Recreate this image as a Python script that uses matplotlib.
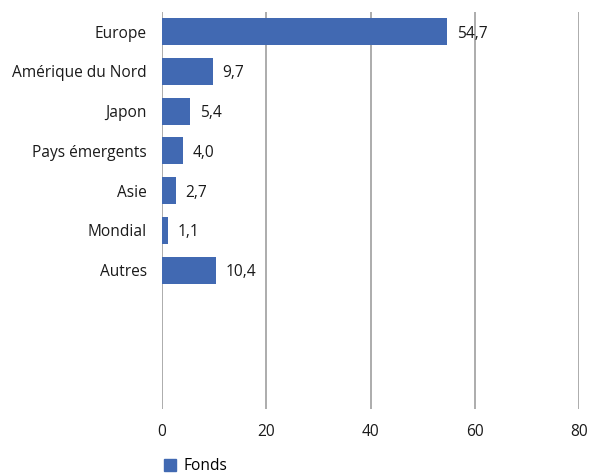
import numpy as np
import matplotlib.pyplot as plt
from matplotlib.patches import Patch

plt.rcParams['font.family'] = ['Open Sans', 'DejaVu Sans']

# répartition géographique des fonds (%)
regions = ["Europe", "Amérique du Nord", "Japon", "Pays émergents", "Asie", "Mondial", "Autres"]
fonds = [54.7, 9.7, 5.4, 4.0, 2.7, 1.1, 10.4]
ticks_x = [0, 20, 40, 60, 80]

bleu = "#4169B2"
gris = "#A6A6A6"
fs = 11.2

fig = plt.figure(figsize=(5.91, 4.74), dpi=100)
ax = fig.add_axes([0.274, 0.137, 0.706, 0.838])

y = np.arange(len(regions))
ax.barh(y, fonds, height=0.68, color=bleu, zorder=3)

for yi, v in zip(y, fonds):
    ax.annotate(f"{v:.1f}".replace(".", ","), (v, yi), xytext=(7, 0),
                textcoords="offset points", va="center_baseline", ha="left",
                fontsize=fs, color="#1a1a1a", zorder=4)

# 10 emplacements, les 3 derniers restent vides
ax.set_ylim(9.5, -0.5)
ax.set_yticks(y)
ax.set_yticklabels(regions, fontsize=fs, color="#1a1a1a", va="center_baseline")
ax.set_xlim(0, 80)
ax.set_xticks(ticks_x)
ax.set_xticklabels([str(t) for t in ticks_x], fontsize=fs, color="#1a1a1a")
ax.tick_params(axis="y", length=0, pad=11)
ax.tick_params(axis="x", length=0, pad=11)

ax.grid(axis="x", color=gris, linewidth=1.3, zorder=0)
ax.grid(axis="y", visible=False)
for s in ax.spines.values():
    s.set_visible(False)

fig.legend(handles=[Patch(color=bleu, label="Fonds")], loc="center left",
           bbox_to_anchor=(0.254, 0.016), frameon=False, fontsize=fs,
           handlelength=0.75, handleheight=0.75, handletextpad=0.5)

fig.savefig("out.png", dpi=100)
